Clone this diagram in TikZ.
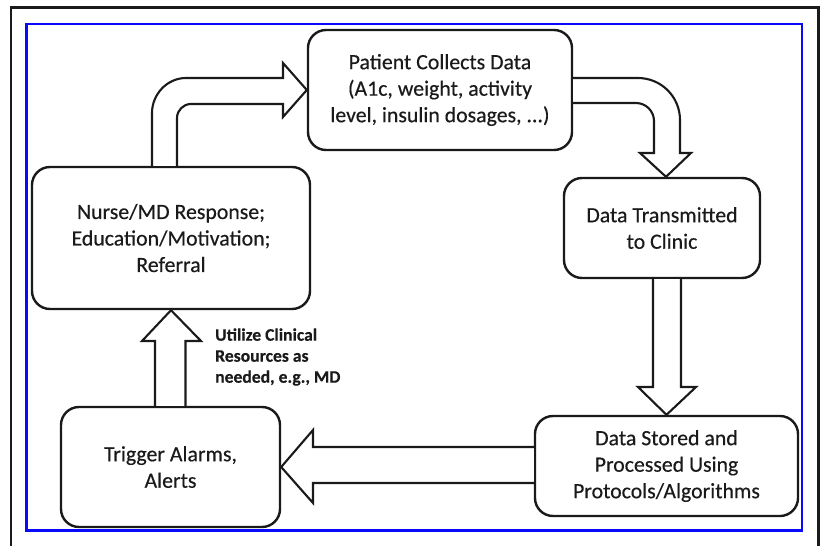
\documentclass[tikz,border=0pt]{standalone}
\usepackage{fontspec}
\setmainfont{Carlito}[FakeBold=0.35]
\usetikzlibrary{calc}
\definecolor{ink}{HTML}{1A1A1A}
\definecolor{frameblue}{RGB}{10,10,250}
\tikzset{
  box/.style={draw=ink, line width=2.4pt, rounded corners=18pt, align=center,
    inner sep=0pt, text=ink, font=\fontsize{21.8}{26.5}\selectfont},
  blockarrow/.style={draw=ink, line width=2.1pt, fill=white, line join=miter},
  note/.style={align=left, inner sep=0pt, text=ink, font=\bfseries\fontsize{17.6}{21}\selectfont}
}
\begin{document}
\begin{tikzpicture}[x=1pt,y=-1pt]
\useasboundingbox (0,0) rectangle (822,546);
\fill[white] (0,0) rectangle (822,546);
% frames
\draw[ink, line width=2.4pt] (11,548) -- (11,7.5) -- (818.5,7.5) -- (818.5,548);
\draw[frameblue, line width=2.6pt] (26.7,24) rectangle (802,530.5);
% boxes
\node[box, minimum width=264pt, minimum height=120pt] (patient) at (440,90)
  {Patient Collects Data\\(A1c, weight, activity\\level, insulin dosages, ...)};
\node[box, minimum width=196pt, minimum height=100pt] (trans) at (662,228)
  {Data Transmitted\\to Clinic};
\node[box, minimum width=263pt, minimum height=100pt] (stored) at (666.5,466)
  {Data Stored and\\Processed Using\\Protocols/Algorithms};
\node[box, minimum width=219pt, minimum height=120pt] (trig) at (170.5,467)
  {Trigger Alarms,\\Alerts};
\node[box, minimum width=278pt, minimum height=142pt] (nurse) at (171,238)
  {Nurse/MD Response;\\Education/Motivation;\\Referral};
% arrow 1: nurse -> patient (curved)
\draw[blockarrow] (152,0 |- nurse.north) -- (152,113)
  .. controls (152,94.2) and (167.2,78) .. (186,78) -- (283,78) -- (283,63)
  -- (patient.west) -- (283,117) -- (283,104) -- (191,104)
  .. controls (183.3,104) and (177,110.3) .. (177,118) -- (177,0 |- nurse.north);
% arrow 2: patient -> trans (curved)
\draw[blockarrow] ($(patient.east)+(0,-12)$) -- (638,78)
  .. controls (661.2,78) and (680,96.8) .. (680,120) -- (680,153) -- (691,153)
  -- ($(trans.north)+(4,0)$) -- (640,153) -- (654,153) -- (654,121)
  .. controls (654,111.1) and (645.9,103) .. (636,103) -- ($(patient.east)+(0,13)$);
% arrow 3: trans -> stored
\draw[blockarrow] (653,0 |- trans.south) -- (653,387) -- (638,387) -- (stored.north)
  -- (696,387) -- (681,387) -- (681,0 |- trans.south);
% arrow 4: stored -> trig
\draw[blockarrow] (stored.west |- 0,447) -- (313,447) -- (313,430) -- (trig.east)
  -- (313,503) -- (313,483) -- (stored.west |- 0,483);
% arrow 5: trig -> nurse
\draw[blockarrow] (155,0 |- trig.north) -- (155,341) -- (142,341) -- (nurse.south)
  -- (201,341) -- (185.5,341) -- (185.5,0 |- trig.north);
% note
\node[note, anchor=west] (util) at (215,357)
  {Utilize Clinical\\Resources as\\needed, e.g., MD};
\end{tikzpicture}
\end{document}
